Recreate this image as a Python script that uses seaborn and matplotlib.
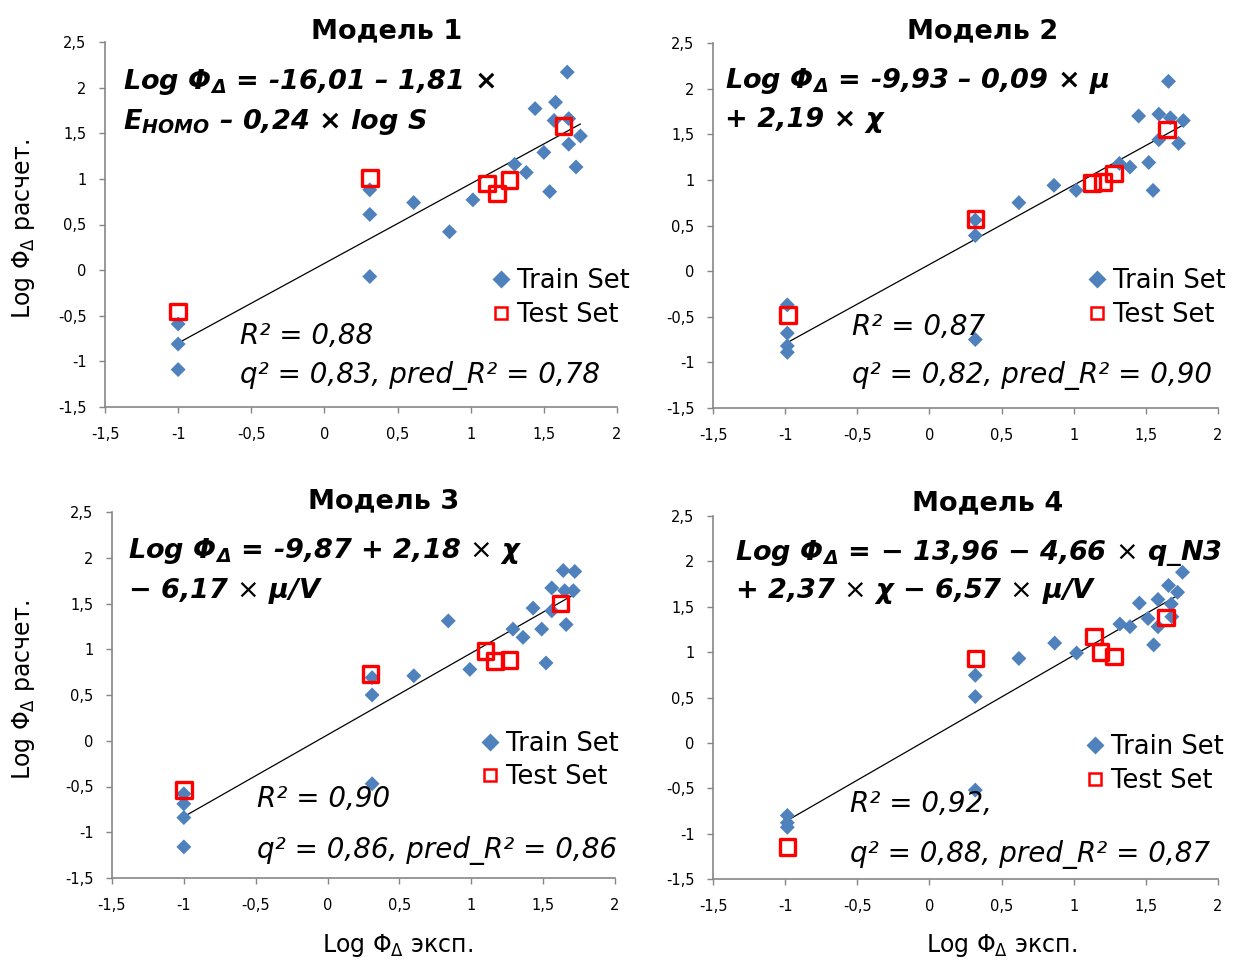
import numpy as np
import matplotlib
matplotlib.use("Agg")
import matplotlib.pyplot as plt
from matplotlib.lines import Line2D
from matplotlib.ticker import FuncFormatter
import seaborn as sns

# ---------------- data ----------------
m1_train_x = [-1.0, -1.0, -1.0, 0.31, 0.31, 0.31, 0.61, 0.855, 1.015, 1.30, 1.38,
              1.44, 1.50, 1.54, 1.58, 1.57, 1.66, 1.67, 1.67, 1.75, 1.72]
m1_train_y = [-0.59, -0.81, -1.09, 0.88, 0.61, -0.07, 0.74, 0.42, 0.77, 1.16, 1.07,
              1.77, 1.29, 0.86, 1.84, 1.64, 2.17, 1.66, 1.38, 1.47, 1.13]
m1_test_x = [-1.0, 0.31, 1.11, 1.18, 1.265, 1.635]
m1_test_y = [-0.455, 1.01, 0.95, 0.84, 0.99, 1.58]

m2_train_x = [-0.985, -0.985, -0.985, -0.985, 0.318, 0.318, 0.318, 0.62, 0.863, 1.017,
              1.317, 1.39, 1.45, 1.52, 1.55, 1.59, 1.59, 1.657, 1.67, 1.727, 1.76]
m2_train_y = [-0.37, -0.68, -0.82, -0.89, 0.56, 0.39, -0.75, 0.75, 0.94, 0.885,
              1.18, 1.14, 1.70, 1.19, 0.885, 1.72, 1.44, 2.08, 1.68, 1.40, 1.65]
m2_test_x = [-0.98, 0.318, 1.128, 1.204, 1.278, 1.646]
m2_test_y = [-0.48, 0.57, 0.965, 0.976, 1.07, 1.55]

m3_train_x = [-1.0, -1.0, -1.0, -1.0, 0.31, 0.31, 0.31, 0.60, 0.84, 0.99, 1.29,
              1.36, 1.43, 1.49, 1.52, 1.56, 1.56, 1.64, 1.65, 1.66, 1.72, 1.71]
m3_train_y = [-0.58, -0.69, -0.84, -1.16, 0.69, 0.50, -0.47, 0.71, 1.31, 0.78, 1.22,
              1.13, 1.45, 1.22, 0.85, 1.67, 1.42, 1.86, 1.64, 1.27, 1.85, 1.64]
m3_test_x = [-1.0, 0.30, 1.10, 1.165, 1.265, 1.62]
m3_test_y = [-0.54, 0.73, 0.98, 0.87, 0.88, 1.50]

m4_train_x = [-0.985, -0.985, -0.985, 0.318, 0.318, 0.318, 0.62, 0.868, 1.02, 1.32,
              1.39, 1.455, 1.515, 1.554, 1.584, 1.584, 1.657, 1.676, 1.68, 1.72, 1.754]
m4_train_y = [-0.80, -0.88, -0.93, 0.745, 0.51, -0.52, 0.93, 1.10, 0.99, 1.31,
              1.28, 1.54, 1.37, 1.08, 1.28, 1.58, 1.735, 1.53, 1.39, 1.66, 1.88]
m4_test_x = [-0.983, 0.318, 1.14, 1.186, 1.278, 1.64]
m4_test_y = [-1.15, 0.93, 1.17, 1.00, 0.95, 1.38]

titles = ["Модель 1", "Модель 2", "Модель 3", "Модель 4"]
formula_line1 = [
    r"Log Φ$_{\mathbfit{Δ}}$ = -16,01 – 1,81 ×",
    r"Log Φ$_{\mathbfit{Δ}}$ = -9,93 – 0,09 × μ",
    r"Log Φ$_{\mathbfit{Δ}}$ = -9,87 + 2,18 $\mathrm{×}$ χ",
    r"Log Φ$_{\mathbfit{Δ}}$ = − 13,96 − 4,66 $\mathrm{×}$ q_N3",
]
formula_line2 = [
    r"E$_{\mathbfit{HOMO}}$ – 0,24 × log S",
    r"+ 2,19 × χ",
    r"− 6,17 $\mathrm{×}$ μ/V",
    r"+ 2,37 $\mathrm{×}$ χ − 6,57 $\mathrm{×}$ μ/V",
]
r2_labels = ["R² = 0,88", "R² = 0,87", "R² = 0,90", "R² = 0,92,"]
q2_labels = ["q² = 0,83, pred_R² = 0,78", "q² = 0,82, pred_R² = 0,90",
             "q² = 0,86, pred_R² = 0,86", "q² = 0,88, pred_R² = 0,87"]
legend_labels = ["Train Set", "Test Set"]
x_ticks = [-1.5, -1.0, -0.5, 0.0, 0.5, 1.0, 1.5, 2.0]
y_ticks = [-1.5, -1.0, -0.5, 0.0, 0.5, 1.0, 1.5, 2.0, 2.5]
y_label = r"Log Φ$_{\mathrm{Δ}}$ расчет."
x_label = r"Log Φ$_{\mathrm{Δ}}$ эксп."

# ---------------- style ----------------
sns.set_style("ticks")
plt.rcParams["font.family"] = ["DejaVu Sans"]
plt.rcParams["mathtext.fontset"] = "custom"
plt.rcParams["mathtext.rm"] = "DejaVu Sans"
plt.rcParams["mathtext.it"] = "DejaVu Sans:italic"
plt.rcParams["mathtext.bf"] = "DejaVu Sans:bold"
plt.rcParams["mathtext.bfit"] = "DejaVu Sans:italic:bold"
plt.rcParams["axes.unicode_minus"] = False
plt.rcParams["text.color"] = "black"
plt.rcParams["axes.labelcolor"] = "black"

BLUE = "#4F81BD"
RED = "#FF0000"
GRAY = "#868686"

fig = plt.figure(figsize=(12.35, 9.64), dpi=100)

# layout (pixels: left, right, top, bottom)
W, H = 1235.0, 964.0
boxes = [(105, 617, 42, 407), (713, 1218, 43, 408),
         (112, 615, 512, 878), (713, 1218, 516, 879)]
title_pos = [(0.551, 1.011), (0.534, 1.014), (0.541, 1.011), (0.543, 1.016)]
f_pos = [(0.035, 0.871, 0.762), (0.024, 0.876, 0.769),
         (0.032, 0.873, 0.764), (0.0436, 0.879, 0.773)]
s_pos = [(0.264, 0.173, 0.066), (0.275, 0.200, 0.069),
         (0.288, 0.195, 0.054), (0.271, 0.185, 0.048)]
leg_pos = [(0.757, 0.2986), (0.744, 0.301), (0.734, 0.321), (0.739, 0.317)]

train = [(m1_train_x, m1_train_y), (m2_train_x, m2_train_y),
         (m3_train_x, m3_train_y), (m4_train_x, m4_train_y)]
test = [(m1_test_x, m1_test_y), (m2_test_x, m2_test_y),
        (m3_test_x, m3_test_y), (m4_test_x, m4_test_y)]

fmt = FuncFormatter(lambda v, p: ("%g" % v).replace(".", ","))

for i in range(4):
    l, r, t, b = boxes[i]
    ax = fig.add_axes([l / W, (H - b) / H, (r - l) / W, (b - t) / H])
    tx, ty = train[i]
    sx, sy = test[i]

    sns.regplot(x=np.array(tx), y=np.array(ty), ax=ax, scatter=False, ci=None,
                truncate=True, color="black", line_kws={"linewidth": 0.9, "zorder": 2})
    sns.scatterplot(x=tx, y=ty, ax=ax, marker="D", s=58, color=BLUE,
                    edgecolor="none", linewidth=0, legend=False, zorder=3)
    sns.scatterplot(x=sx, y=sy, ax=ax, marker="s", s=125, facecolor="none",
                    edgecolor=RED, linewidth=2.4, legend=False, zorder=4)

    ax.set_xlim(-1.5, 2.0)
    ax.set_ylim(-1.5, 2.5)
    ax.set_xticks(x_ticks)
    ax.set_yticks(y_ticks)
    ax.xaxis.set_major_formatter(fmt)
    ax.yaxis.set_major_formatter(fmt)
    ax.set_xlabel("")
    ax.set_ylabel("")
    sns.despine(ax=ax)
    for side in ("left", "bottom"):
        ax.spines[side].set_color(GRAY)
        ax.spines[side].set_linewidth(1.2)
    ax.tick_params(axis="both", direction="out", length=4.3, width=1.0,
                   color=GRAY, labelsize=10.5, labelcolor="black")
    ax.tick_params(axis="y", pad=9)
    ax.tick_params(axis="x", pad=10)
    ax.patch.set_alpha(0)

    ax.text(title_pos[i][0], title_pos[i][1], titles[i], transform=ax.transAxes,
            ha="center", va="baseline", fontsize=19.5, fontweight="bold",
            color="black")
    fx, fy1, fy2 = f_pos[i]
    ax.text(fx, fy1, formula_line1[i], transform=ax.transAxes, ha="left",
            va="baseline", fontsize=19.5, fontweight="bold", fontstyle="italic",
            color="black")
    ax.text(fx, fy2, formula_line2[i], transform=ax.transAxes, ha="left",
            va="baseline", fontsize=19.5, fontweight="bold", fontstyle="italic",
            color="black")
    qx, qy1, qy2 = s_pos[i]
    ax.text(qx, qy1, r2_labels[i], transform=ax.transAxes, ha="left",
            va="baseline", fontsize=20, fontstyle="italic", color="black")
    ax.text(qx, qy2, q2_labels[i], transform=ax.transAxes, ha="left",
            va="baseline", fontsize=20, fontstyle="italic", color="black")

    handles = [Line2D([], [], linestyle="none", marker="D", markersize=9.5,
                      markerfacecolor=BLUE, markeredgecolor="none"),
               Line2D([], [], linestyle="none", marker="s", markersize=9,
                      markerfacecolor="none", markeredgecolor=RED,
                      markeredgewidth=1.8)]
    leg = ax.legend(handles, legend_labels, loc="center left",
                    bbox_to_anchor=leg_pos[i], bbox_transform=ax.transAxes,
                    frameon=False, borderpad=0, borderaxespad=0, handlelength=0.65,
                    handletextpad=0.3, labelspacing=0.3, prop={"size": 18.5})
    for txt in leg.get_texts():
        txt.set_color("black")

# axis labels
fig.text(24 / W, (H - 229) / H, y_label, rotation=90, ha="center", va="center",
         fontsize=17, color="black")
fig.text(24 / W, (H - 690) / H, y_label, rotation=90, ha="center", va="center",
         fontsize=17, color="black")
fig.text(398 / W, (H - 952) / H, x_label, ha="center", va="baseline", fontsize=17,
         color="black")
fig.text(1002 / W, (H - 952) / H, x_label, ha="center", va="baseline", fontsize=17,
         color="black")

fig.savefig("out.png", dpi=100)
